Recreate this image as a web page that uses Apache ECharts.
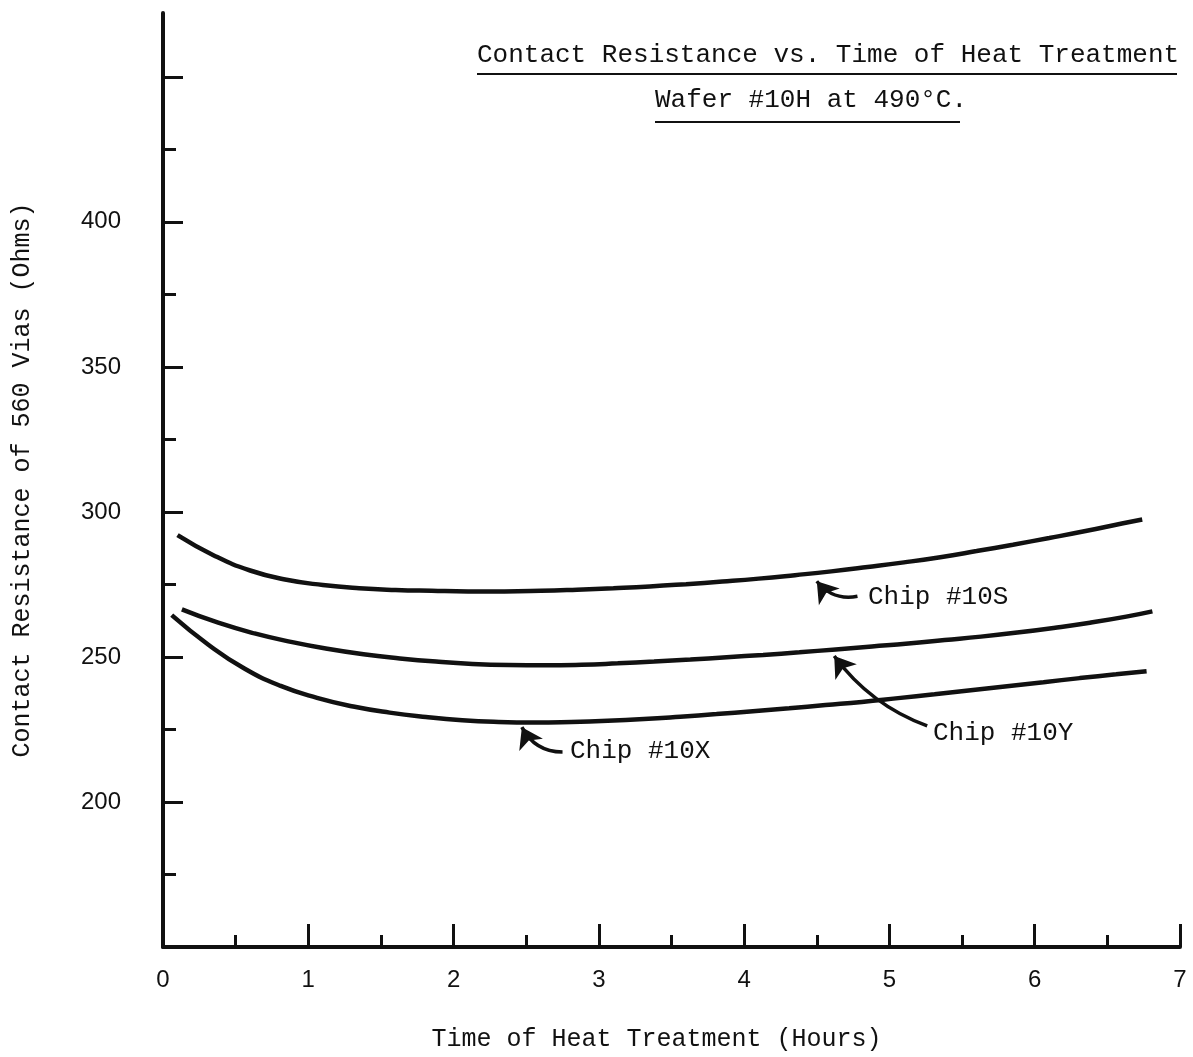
<!DOCTYPE html>
<html>
<head>
<meta charset="utf-8">
<script src="https://cdn.jsdelivr.net/npm/echarts@6/dist/echarts.min.js"></script>
<style>
  html, body { margin: 0; padding: 0; background: #fff; }
  #chart { width: 1193px; height: 1057px; }
</style>
</head>
<body>
<div id="chart"></div>
<script>
/** Data: [hours, ohms] */
var chip10S = [[0.1, 292.0], [0.35, 285.0], [0.6, 279.8], [0.85, 276.6], [1.1, 274.8], [1.35, 273.7],
  [1.6, 273.1], [1.85, 272.8], [2.1, 272.6], [2.35, 272.6], [2.6, 272.8], [2.85, 273.2],
  [3.1, 273.7], [3.35, 274.3], [3.6, 275.1], [3.85, 276.0], [4.1, 277.0], [4.35, 278.2],
  [4.6, 279.5], [4.85, 281.0], [5.1, 282.6], [5.35, 284.4], [5.6, 286.5], [5.85, 288.7],
  [6.1, 291.0], [6.35, 293.4], [6.6, 296.0], [6.74, 297.4]];
var chip10Y = [[0.13, 266.4], [0.38, 261.8], [0.63, 258.1], [0.88, 255.2], [1.13, 252.8], [1.38, 250.9],
  [1.63, 249.5], [1.88, 248.4], [2.13, 247.6], [2.38, 247.2], [2.63, 247.1], [2.88, 247.3],
  [3.13, 247.8], [3.38, 248.4], [3.63, 249.1], [3.88, 249.9], [4.13, 250.7], [4.38, 251.6],
  [4.63, 252.6], [4.88, 253.6], [5.13, 254.6], [5.38, 255.8], [5.63, 257.0], [5.88, 258.4],
  [6.13, 260.0], [6.38, 261.8], [6.63, 263.9], [6.81, 265.7]];
var chip10X = [[0.06, 264.4], [0.31, 254.3], [0.56, 246.0], [0.81, 240.0], [1.06, 235.9], [1.31, 232.9],
  [1.56, 230.8], [1.81, 229.3], [2.06, 228.2], [2.31, 227.6], [2.56, 227.4], [2.81, 227.6],
  [3.06, 228.0], [3.31, 228.6], [3.56, 229.4], [3.81, 230.3], [4.06, 231.3], [4.31, 232.3],
  [4.56, 233.4], [4.81, 234.5], [5.06, 235.8], [5.31, 237.1], [5.56, 238.5], [5.81, 239.9],
  [6.06, 241.3], [6.31, 242.7], [6.56, 244.0], [6.77, 245.1]];

/** Annotation arrows: [tail, tip] in data units */
var arrow10S = [[4.78, 270.9], [4.50, 276.1]];
var arrow10Y = [[5.26, 226.2], [4.62, 250.3]];
var arrow10X = [[2.75, 217.2], [2.47, 225.8]];

/** Ticks and labels */
var xLabels = [0, 1, 2, 3, 4, 5, 6, 7];
var xMajorTicks = [1, 2, 3, 4, 5, 6, 7];
var xMinorTicks = [0.5, 1.5, 2.5, 3.5, 4.5, 5.5, 6.5];
var yLabels = [200, 250, 300, 350, 400];
var yMajorTicks = [200, 250, 300, 350, 400, 450];
var yMinorTicks = [175, 225, 275, 325, 375, 425];

var mono = 'Liberation Mono';
var ink = '#111';

function curve(name, data) {
  return {
    name: name,
    type: 'line',
    data: data,
    smooth: true,
    showSymbol: false,
    lineStyle: { color: ink, width: 4.5 },
    z: 3
  };
}

function arrow(coords, curveness) {
  return {
    type: 'lines',
    coordinateSystem: 'cartesian2d',
    symbol: ['none', 'arrow'],
    symbolSize: 20,
    lineStyle: { color: ink, width: 3.5, opacity: 1, curveness: curveness },
    data: [{ coords: coords }],
    z: 4
  };
}

var option = {
  backgroundColor: '#fff',
  animation: false,
  grid: { left: 163, right: 13, top: 13, bottom: 109 },
  xAxis: [{
    type: 'value',
    min: 0,
    max: 7,
    name: 'Time of Heat Treatment (Hours)',
    nameLocation: 'middle',
    nameGap: 80,
    nameTextStyle: { fontFamily: mono, fontSize: 25, color: ink, padding: [0, 30, 0, 0] },
    axisLine: { show: true, lineStyle: { color: ink, width: 4 } },
    axisTick: { show: true, inside: true, length: 23, customValues: xMajorTicks, lineStyle: { color: ink, width: 3 } },
    axisLabel: { customValues: xLabels, margin: 21, fontFamily: 'Liberation Sans', fontSize: 24, color: ink },
    splitLine: { show: false }
  }, {
    type: 'value',
    min: 0,
    max: 7,
    position: 'bottom',
    axisLine: { show: false },
    axisTick: { show: true, inside: true, length: 12, customValues: xMinorTicks, lineStyle: { color: ink, width: 3 } },
    axisLabel: { show: false },
    splitLine: { show: false }
  }],
  yAxis: [{
    type: 'value',
    min: 150,
    max: 472,
    name: 'Contact Resistance of 560 Vias (Ohms)',
    nameLocation: 'middle',
    nameRotate: 90,
    nameGap: 128,
    nameTextStyle: { fontFamily: mono, fontSize: 25, color: ink },
    axisLine: { show: true, lineStyle: { color: ink, width: 4 } },
    axisTick: { show: true, inside: true, length: 20, customValues: yMajorTicks, lineStyle: { color: ink, width: 3 } },
    axisLabel: { customValues: yLabels, margin: 42, fontFamily: 'Liberation Sans', fontSize: 24, color: ink },
    splitLine: { show: false }
  }, {
    type: 'value',
    min: 150,
    max: 472,
    position: 'left',
    axisLine: { show: false },
    axisTick: { show: true, inside: true, length: 13, customValues: yMinorTicks, lineStyle: { color: ink, width: 3 } },
    axisLabel: { show: false },
    splitLine: { show: false }
  }],
  series: [
    curve('Chip #10S', chip10S),
    curve('Chip #10Y', chip10Y),
    curve('Chip #10X', chip10X),
    arrow(arrow10S, 0.3),
    arrow(arrow10Y, 0.15),
    arrow(arrow10X, 0.3)
  ],
  graphic: [
    { type: 'text', left: 477, top: 42, style: { text: 'Contact Resistance vs. Time of Heat Treatment', font: '26px "Liberation Mono"', fill: ink } },
    { type: 'rect', left: 477, top: 73, shape: { width: 700, height: 2 }, style: { fill: ink } },
    { type: 'text', left: 655, top: 87, style: { text: 'Wafer #10H at 490°C.', font: '26px "Liberation Mono"', fill: ink } },
    { type: 'rect', left: 655, top: 121, shape: { width: 305, height: 2 }, style: { fill: ink } },
    { type: 'text', left: 868, top: 584, style: { text: 'Chip #10S', font: '26px "Liberation Mono"', fill: ink } },
    { type: 'text', left: 933, top: 720, style: { text: 'Chip #10Y', font: '26px "Liberation Mono"', fill: ink } },
    { type: 'text', left: 570, top: 738, style: { text: 'Chip #10X', font: '26px "Liberation Mono"', fill: ink } }
  ]
};

echarts.init(document.getElementById('chart')).setOption(option);
</script>
</body>
</html>
